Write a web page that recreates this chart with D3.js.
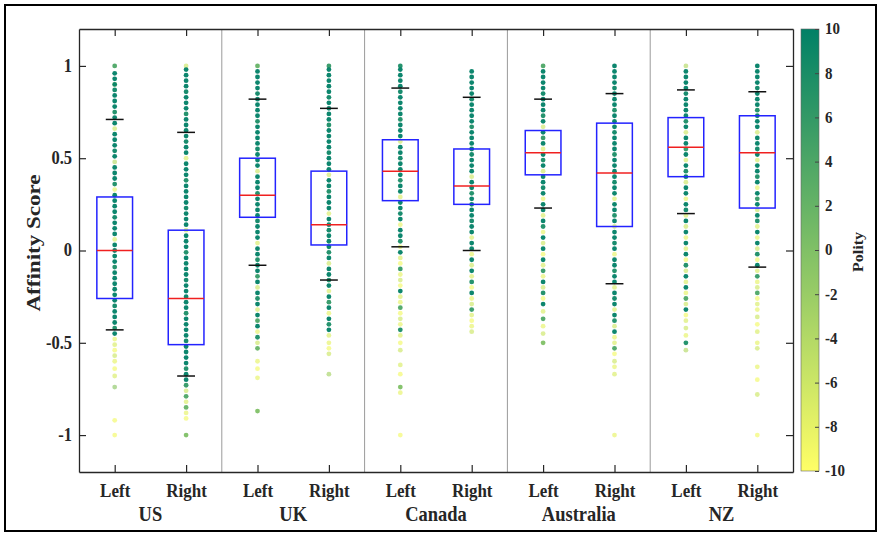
<!DOCTYPE html>
<html>
<head>
<meta charset="utf-8">
<script src="https://cdn.jsdelivr.net/npm/d3@7"></script>
<style>
body { margin: 0; background: #fff; }
text { font-family: "Liberation Serif", "Times New Roman", serif; font-weight: bold; fill: #262626; }
</style>
</head>
<body>
<svg id="chart" width="881" height="536"></svg>
<script>
// categories
var countries = ['US', 'UK', 'Canada', 'Australia', 'NZ']
var sides = ['Left', 'Right']
// box stats, one per Left/Right group, in country order
var medians   = [0.00, -0.26, 0.30, 0.14, 0.43, 0.35, 0.53, 0.42, 0.56, 0.53]
var q1        = [-0.26, -0.51, 0.18, 0.03, 0.27, 0.25, 0.41, 0.13, 0.40, 0.23]
var q3        = [0.29, 0.11, 0.50, 0.43, 0.60, 0.55, 0.65, 0.69, 0.72, 0.73]
var whiskerLo = [-0.43, -0.68, -0.08, -0.16, 0.02, 0.00, 0.23, -0.18, 0.20, -0.09]
var whiskerHi = [0.71, 0.64, 0.82, 0.77, 0.88, 0.83, 0.82, 0.85, 0.87, 0.86]
var yTicks = [-1, -0.5, 0, 0.5, 1]
var polityTicks = [-10, -8, -6, -4, -2, 0, 2, 4, 6, 8, 10]

// scatter points [score, polity]
var dotsUSLeft = [[1.00,4],[0.96,10],[0.93,10],[0.90,10],[0.90,-8],[0.87,9],[0.84,10],[0.81,10],[0.78,10],[0.75,8],[0.72,10],[0.69,10],[0.66,-6],[0.63,10],[0.60,10],[0.57,10],[0.54,9],[0.51,10],[0.48,-4],[0.45,10],[0.42,10],[0.39,10],[0.36,8],[0.33,-8],[0.30,10],[0.27,10],[0.24,10],[0.21,10],[0.18,9],[0.15,10],[0.12,10],[0.09,10],[0.06,-7],[0.03,10],[0.00,10],[-0.03,10],[-0.06,10],[-0.09,8],[-0.12,10],[-0.15,10],[-0.18,10],[-0.21,10],[-0.24,10],[-0.27,10],[-0.30,9],[-0.33,10],[-0.36,10],[-0.39,10],[-0.42,8],[-0.45,10],[-0.48,-8],[-0.51,-7],[-0.54,-9],[-0.57,-6],[-0.60,-8],[-0.64,-9],[-0.68,-7],[-0.74,-1],[-0.92,-9],[-1.00,-9]]
var dotsUSRight = [[1.00,-6],[0.98,10],[0.95,10],[0.92,10],[0.89,10],[0.86,9],[0.83,10],[0.80,10],[0.77,10],[0.74,8],[0.71,10],[0.68,10],[0.65,10],[0.62,10],[0.59,9],[0.56,10],[0.53,10],[0.50,-7],[0.47,10],[0.44,10],[0.41,10],[0.38,8],[0.35,10],[0.32,10],[0.29,10],[0.26,10],[0.23,9],[0.20,10],[0.17,10],[0.14,10],[0.11,-6],[0.08,10],[0.05,10],[0.02,10],[-0.01,8],[-0.04,10],[-0.07,10],[-0.10,10],[-0.13,10],[-0.16,9],[-0.19,10],[-0.22,10],[-0.25,10],[-0.28,10],[-0.31,10],[-0.34,8],[-0.37,10],[-0.40,10],[-0.43,10],[-0.46,10],[-0.49,9],[-0.52,10],[-0.55,10],[-0.58,10],[-0.61,10],[-0.64,8],[-0.67,10],[-0.70,10],[-0.73,6],[-0.76,-6],[-0.79,4],[-0.82,-7],[-0.85,2],[-0.88,-8],[-0.91,-9],[-1.00,0]]
var dotsUKLeft = [[1.00,2],[0.97,10],[0.94,10],[0.91,10],[0.88,10],[0.85,9],[0.82,10],[0.79,10],[0.76,10],[0.73,10],[0.70,8],[0.67,10],[0.64,10],[0.61,10],[0.58,10],[0.55,9],[0.52,10],[0.49,10],[0.46,10],[0.43,-6],[0.40,10],[0.37,10],[0.34,10],[0.31,8],[0.28,10],[0.25,10],[0.22,10],[0.19,10],[0.16,9],[0.13,10],[0.10,10],[0.07,10],[0.04,-7],[0.01,10],[-0.02,10],[-0.05,8],[-0.08,10],[-0.11,10],[-0.14,6],[-0.17,10],[-0.20,-6],[-0.23,10],[-0.26,8],[-0.29,10],[-0.32,-7],[-0.35,10],[-0.38,4],[-0.41,10],[-0.44,-8],[-0.47,8],[-0.50,-6],[-0.53,2],[-0.60,-8],[-0.64,-9],[-0.69,-8],[-0.87,0]]
var dotsUKRight = [[1.00,6],[0.98,10],[0.95,10],[0.92,10],[0.89,10],[0.86,10],[0.83,9],[0.80,10],[0.77,10],[0.74,10],[0.71,10],[0.68,8],[0.65,10],[0.62,10],[0.59,10],[0.56,10],[0.53,9],[0.50,10],[0.47,10],[0.44,10],[0.41,-6],[0.38,10],[0.35,10],[0.32,8],[0.29,10],[0.26,10],[0.23,10],[0.20,-7],[0.17,10],[0.14,10],[0.11,9],[0.08,10],[0.05,10],[0.02,10],[-0.01,8],[-0.04,10],[-0.07,-6],[-0.10,10],[-0.13,10],[-0.16,8],[-0.19,10],[-0.22,-7],[-0.25,10],[-0.28,6],[-0.31,10],[-0.34,-8],[-0.37,10],[-0.40,8],[-0.43,10],[-0.46,-7],[-0.50,-8],[-0.53,-9],[-0.56,-6],[-0.67,-3]]
var dotsCanadaLeft = [[1.00,8],[0.98,10],[0.95,10],[0.92,10],[0.89,10],[0.86,9],[0.83,10],[0.80,10],[0.77,10],[0.74,10],[0.71,8],[0.68,10],[0.65,10],[0.62,10],[0.59,-6],[0.56,10],[0.53,10],[0.50,9],[0.47,10],[0.44,10],[0.41,10],[0.38,8],[0.35,10],[0.32,10],[0.29,-7],[0.26,10],[0.23,10],[0.20,9],[0.17,10],[0.14,-8],[0.11,10],[0.08,10],[0.05,8],[0.02,-8],[-0.01,10],[-0.04,-7],[-0.07,-9],[-0.10,6],[-0.13,-8],[-0.16,-6],[-0.19,-9],[-0.22,10],[-0.25,-7],[-0.28,-8],[-0.31,4],[-0.34,-9],[-0.37,-6],[-0.40,-8],[-0.43,8],[-0.46,-7],[-0.50,-9],[-0.54,-6],[-0.62,-7],[-0.67,-9],[-0.74,0],[-0.77,-8],[-1.00,-9]]
var dotsCanadaRight = [[0.97,10],[0.94,10],[0.91,10],[0.88,10],[0.85,10],[0.82,9],[0.79,10],[0.76,10],[0.73,10],[0.70,10],[0.67,8],[0.64,10],[0.61,10],[0.58,10],[0.55,10],[0.52,9],[0.49,10],[0.46,10],[0.43,10],[0.40,-6],[0.37,10],[0.34,10],[0.31,8],[0.28,10],[0.25,10],[0.22,10],[0.19,10],[0.16,9],[0.13,10],[0.10,10],[0.07,-7],[0.04,10],[0.01,10],[-0.02,-8],[-0.05,10],[-0.08,-6],[-0.11,10],[-0.14,-7],[-0.17,8],[-0.20,-9],[-0.23,10],[-0.26,-8],[-0.29,-6],[-0.32,6],[-0.35,-7],[-0.38,-9],[-0.41,-8],[-0.44,-6]]
var dotsAustraliaLeft = [[1.00,4],[0.97,10],[0.94,10],[0.91,10],[0.88,10],[0.85,9],[0.82,10],[0.79,10],[0.76,10],[0.73,8],[0.70,10],[0.67,-6],[0.64,10],[0.61,6],[0.58,10],[0.55,-7],[0.52,10],[0.49,8],[0.46,10],[0.43,-6],[0.40,10],[0.37,10],[0.34,9],[0.31,10],[0.28,-8],[0.25,10],[0.22,10],[0.19,-7],[0.16,10],[0.13,8],[0.10,-8],[0.07,10],[0.04,-6],[0.01,10],[-0.02,-9],[-0.05,10],[-0.08,-7],[-0.11,6],[-0.14,-8],[-0.17,10],[-0.20,-6],[-0.23,8],[-0.26,-9],[-0.29,10],[-0.33,-7],[-0.37,4],[-0.41,-8],[-0.45,-6],[-0.50,0]]
var dotsAustraliaRight = [[1.00,10],[0.97,10],[0.94,10],[0.91,10],[0.88,9],[0.85,10],[0.82,10],[0.79,10],[0.76,8],[0.73,10],[0.70,10],[0.67,10],[0.64,9],[0.61,10],[0.58,10],[0.55,10],[0.52,8],[0.49,10],[0.46,10],[0.43,10],[0.40,10],[0.37,9],[0.34,10],[0.31,10],[0.28,-7],[0.25,10],[0.22,10],[0.19,8],[0.16,10],[0.13,-6],[0.10,10],[0.07,10],[0.04,9],[0.01,10],[-0.02,-8],[-0.05,10],[-0.08,10],[-0.11,8],[-0.14,10],[-0.17,10],[-0.20,-7],[-0.23,10],[-0.26,9],[-0.29,10],[-0.32,-7],[-0.35,10],[-0.38,8],[-0.41,-6],[-0.44,10],[-0.47,-8],[-0.50,-7],[-0.53,4],[-0.56,-9],[-0.60,-6],[-0.63,-8],[-0.67,-7],[-1.00,-8]]
var dotsNZLeft = [[1.00,-4],[0.97,10],[0.94,10],[0.91,10],[0.88,10],[0.85,9],[0.82,10],[0.79,10],[0.76,10],[0.73,10],[0.70,8],[0.67,10],[0.64,-6],[0.61,10],[0.58,10],[0.55,6],[0.52,10],[0.49,-7],[0.46,10],[0.43,8],[0.40,10],[0.37,-6],[0.34,10],[0.31,10],[0.28,-8],[0.25,10],[0.22,9],[0.19,-7],[0.16,10],[0.13,-6],[0.10,10],[0.07,-8],[0.04,10],[0.01,-7],[-0.02,10],[-0.05,-9],[-0.08,8],[-0.11,-6],[-0.14,10],[-0.17,-7],[-0.20,10],[-0.23,-8],[-0.26,4],[-0.29,-6],[-0.32,10],[-0.35,-9],[-0.38,-7],[-0.42,-6],[-0.46,-8],[-0.50,8],[-0.54,-4]]
var dotsNZRight = [[1.00,10],[0.97,10],[0.94,10],[0.91,10],[0.88,9],[0.85,10],[0.82,10],[0.79,10],[0.76,8],[0.73,10],[0.70,10],[0.67,10],[0.64,-6],[0.61,10],[0.58,10],[0.55,9],[0.52,10],[0.49,-7],[0.46,10],[0.43,10],[0.40,8],[0.37,10],[0.34,-8],[0.31,10],[0.28,6],[0.25,10],[0.22,-6],[0.19,10],[0.16,8],[0.13,-7],[0.10,10],[0.07,-8],[0.04,10],[0.01,-6],[-0.02,8],[-0.05,-9],[-0.08,10],[-0.11,-7],[-0.14,6],[-0.17,-8],[-0.20,-6],[-0.23,4],[-0.26,-9],[-0.29,-7],[-0.32,-8],[-0.36,-6],[-0.40,-9],[-0.44,-7],[-0.50,-8],[-0.53,-6],[-0.63,-8],[-0.70,-9],[-0.78,-6],[-1.00,-9]]
var dotGroups = [dotsUSLeft, dotsUSRight, dotsUKLeft, dotsUKRight, dotsCanadaLeft, dotsCanadaRight,
	dotsAustraliaLeft, dotsAustraliaRight, dotsNZLeft, dotsNZRight]

var svg = d3.select('#chart')
var plotLeft = 79, plotRight = 793, plotTop = 29, plotBottom = 472
var x = d3.scaleLinear().domain([0.5, 10.5]).range([plotLeft, plotRight])
var y = d3.scaleLinear().domain([-1.2, 1.2]).range([plotBottom, plotTop])
var color = d3.scaleLinear().domain([-10, 10]).range(['#ffff66', '#008066'])
var boxHalf = 0.25, capHalf = 0.125
var stretch = 'scale(1,1.15)'

// outer frame
svg.append('rect').attr('x', 5).attr('y', 5).attr('width', 871).attr('height', 526)
	.attr('fill', 'none').attr('stroke', '#000').attr('stroke-width', 2)

// group separators
svg.selectAll('.sep').data([2.5, 4.5, 6.5, 8.5]).enter().append('line')
	.attr('class', 'sep')
	.attr('x1', function(d){return x(d)}).attr('x2', function(d){return x(d)})
	.attr('y1', plotTop).attr('y2', plotBottom)
	.attr('stroke', '#9a9a9a').attr('stroke-width', 1)

// dots, low polity first so green sits on top
dotGroups.forEach(function(g, i)
{
	var pts = g.slice().sort(function(a, b){return a[1] - b[1]})
	svg.append('g').selectAll('circle').data(pts).enter().append('circle')
		.attr('cx', x(i + 1))
		.attr('cy', function(d){return y(d[0])})
		.attr('r', 2.4)
		.attr('fill', function(d){return color(d[1])})
		.attr('fill-opacity', function(d){return d[1] < 0 ? 0.65 : 0.95})
})

// boxes
var idx = d3.range(10)
var boxes = svg.append('g').selectAll('g').data(idx).enter().append('g')
boxes.append('rect')
	.attr('x', function(i){return x(i + 1 - boxHalf)})
	.attr('y', function(i){return y(q3[i])})
	.attr('width', function(i){return x(i + 1 + boxHalf) - x(i + 1 - boxHalf)})
	.attr('height', function(i){return y(q1[i]) - y(q3[i])})
	.attr('fill', 'none').attr('stroke', '#2323ff').attr('stroke-width', 1.5)
boxes.append('line')
	.attr('x1', function(i){return x(i + 1 - boxHalf)}).attr('x2', function(i){return x(i + 1 + boxHalf)})
	.attr('y1', function(i){return y(medians[i])}).attr('y2', function(i){return y(medians[i])})
	.attr('stroke', '#f02020').attr('stroke-width', 1.5)
boxes.append('line')
	.attr('x1', function(i){return x(i + 1 - capHalf)}).attr('x2', function(i){return x(i + 1 + capHalf)})
	.attr('y1', function(i){return y(whiskerHi[i])}).attr('y2', function(i){return y(whiskerHi[i])})
	.attr('stroke', '#111').attr('stroke-width', 1.5)
boxes.append('line')
	.attr('x1', function(i){return x(i + 1 - capHalf)}).attr('x2', function(i){return x(i + 1 + capHalf)})
	.attr('y1', function(i){return y(whiskerLo[i])}).attr('y2', function(i){return y(whiskerLo[i])})
	.attr('stroke', '#111').attr('stroke-width', 1.5)

// axes
var pos = d3.range(1, 11)
var ax = svg.append('g')
var yAx = ax.append('g').attr('transform', 'translate(' + plotLeft + ',0)')
	.call(d3.axisLeft(y).tickValues(yTicks).tickSizeInner(-7).tickSizeOuter(0).tickPadding(7)
		.tickFormat(function(d){return String(d)}))
	.attr('font-size', 16.5)
yAx.selectAll('text').attr('dy', '0.28em').attr('transform', stretch)
ax.append('g').attr('transform', 'translate(' + plotRight + ',0)')
	.call(d3.axisRight(y).tickValues(yTicks).tickSizeInner(-7).tickSizeOuter(0).tickFormat(''))
ax.append('g').attr('transform', 'translate(0,' + plotTop + ')')
	.call(d3.axisTop(x).tickValues(pos).tickSizeInner(-7).tickSizeOuter(0).tickFormat(''))
var xAx = ax.append('g').attr('transform', 'translate(0,' + plotBottom + ')')
	.call(d3.axisBottom(x).tickValues(pos).tickSizeInner(-7).tickSizeOuter(0)
		.tickFormat(function(d){return sides[(d - 1) % 2]}))
	.attr('font-size', 17)
xAx.selectAll('text').attr('y', 0).attr('dy', 0).attr('transform', 'translate(0,25) ' + stretch)
ax.selectAll('.domain').attr('stroke', '#262626').attr('stroke-width', 1.3)
ax.selectAll('.tick line').attr('stroke', '#262626').attr('stroke-width', 1.2)
ax.selectAll('text').attr('font-family', null).attr('fill', '#262626')

// country labels
svg.selectAll('.country').data(countries).enter().append('text')
	.attr('class', 'country')
	.attr('transform', function(d, i){return 'translate(' + x(2 * i + 1.5) + ',521) ' + stretch})
	.attr('text-anchor', 'middle')
	.attr('font-size', 18.5)
	.text(function(d){return d})

// y label
svg.append('text')
	.attr('transform', 'translate(40,243) rotate(-90) scale(1.28,1)')
	.attr('text-anchor', 'middle')
	.attr('font-size', 18)
	.text('Affinity Score')

// colorbar
var cbX = 801, cbW = 18, cbTop = 29, cbBottom = 471
var cy = d3.scaleLinear().domain([-10, 10]).range([cbBottom, cbTop])
var grad = svg.append('defs').append('linearGradient').attr('id', 'cbgrad')
	.attr('x1', 0).attr('y1', 1).attr('x2', 0).attr('y2', 0)
grad.selectAll('stop').data(polityTicks).enter().append('stop')
	.attr('offset', function(d){return (d + 10) / 20})
	.attr('stop-color', function(d){return color(d)})
svg.append('rect').attr('x', cbX).attr('y', cbTop).attr('width', cbW).attr('height', cbBottom - cbTop)
	.attr('fill', 'url(#cbgrad)').attr('stroke', '#666').attr('stroke-width', 0.6)
var cbAxis = svg.append('g').attr('transform', 'translate(' + (cbX + cbW) + ',0)')
	.call(d3.axisRight(cy).tickValues(polityTicks).tickSizeInner(-4).tickSizeOuter(0).tickPadding(6)
		.tickFormat(function(d){return String(d)}))
	.attr('font-size', 15)
cbAxis.select('.domain').remove()
cbAxis.selectAll('.tick line').attr('stroke', '#444')
cbAxis.selectAll('text').attr('font-family', null).attr('fill', '#262626')
	.attr('dy', '0.28em').attr('transform', stretch)

svg.append('text')
	.attr('transform', 'translate(863,252) rotate(-90) scale(1.15,1)')
	.attr('text-anchor', 'middle')
	.attr('font-size', 14)
	.text('Polity')
</script>
</body>
</html>
